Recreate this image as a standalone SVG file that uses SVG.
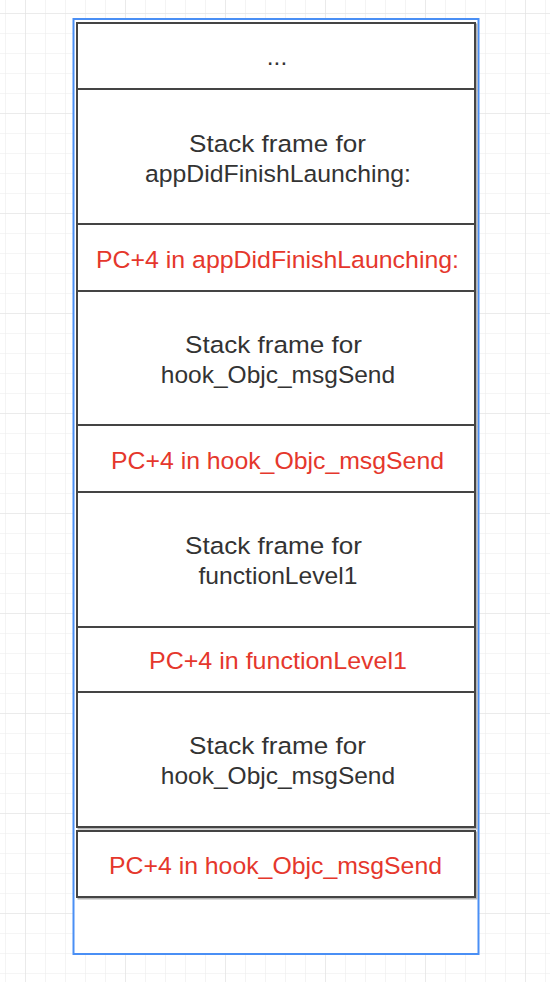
<svg xmlns="http://www.w3.org/2000/svg" width="550" height="982" viewBox="0 0 550 982">
  <defs>
    <pattern id="gridMinor" x="5" y="13" width="20" height="20" patternUnits="userSpaceOnUse">
      <path d="M0 0H20M0 0V20" fill="none" stroke="#ececec" stroke-width="1.2"/>
    </pattern>
    <pattern id="gridMajor" x="25" y="13" width="100" height="100" patternUnits="userSpaceOnUse">
      <path d="M0 0H100M0 0V100" fill="none" stroke="#e2e2e2" stroke-width="1.2"/>
    </pattern>
  </defs>
  <style>
    .box { fill: #ffffff; stroke: #444444; stroke-width: 2; }
    .shadow { fill: none; stroke: #b4b4b4; stroke-width: 2; }
    .t { font-family: "Liberation Sans", Arial, sans-serif; font-size: 24.5px; fill: #333333; text-anchor: middle; }
    .r { font-family: "Liberation Sans", Arial, sans-serif; font-size: 24.5px; fill: #e5372c; text-anchor: middle; }
  </style>
  <rect x="0" y="0" width="550" height="982" fill="#ffffff"/>
  <rect x="0" y="0" width="550" height="982" fill="url(#gridMinor)"/>
  <rect x="0" y="0" width="550" height="982" fill="url(#gridMajor)"/>

  <g id="container">
    <rect x="73.5" y="19" width="405" height="935" fill="#ffffff" stroke="#4a8ff5" stroke-width="2"/>
  </g>

  <g id="frame-dots">
    <rect class="shadow" x="78.5" y="24.5" width="398" height="66"/>
    <rect class="box" x="77" y="23" width="398" height="66"/>
    <text class="t" x="277" y="65">...</text>
  </g>
  <g id="frame-appDidFinishLaunching">
    <rect class="shadow" x="78.5" y="90.5" width="398" height="135"/>
    <rect class="box" x="77" y="89" width="398" height="135"/>
    <text class="t" x="277.5" y="151.5" textLength="177" lengthAdjust="spacingAndGlyphs">Stack frame for</text>
    <text class="t" x="278" y="181.5" textLength="266" lengthAdjust="spacingAndGlyphs">appDidFinishLaunching:</text>
  </g>
  <g id="pc-appDidFinishLaunching">
    <rect class="shadow" x="78.5" y="225.5" width="398" height="67"/>
    <rect class="box" x="77" y="224" width="398" height="67"/>
    <text class="r" x="277.5" y="267.5" textLength="363" lengthAdjust="spacingAndGlyphs">PC+4 in appDidFinishLaunching:</text>
  </g>
  <g id="frame-hook-1">
    <rect class="shadow" x="78.5" y="292.5" width="398" height="134"/>
    <rect class="box" x="77" y="291" width="398" height="134"/>
    <text class="t" x="273.5" y="352.5" textLength="177" lengthAdjust="spacingAndGlyphs">Stack frame for</text>
    <text class="t" x="278" y="382.5">hook_Objc_msgSend</text>
  </g>
  <g id="pc-hook-1">
    <rect class="shadow" x="78.5" y="426.5" width="398" height="67"/>
    <rect class="box" x="77" y="425" width="398" height="67"/>
    <text class="r" x="277.5" y="468.5" textLength="333" lengthAdjust="spacingAndGlyphs">PC+4 in hook_Objc_msgSend</text>
  </g>
  <g id="frame-functionLevel1">
    <rect class="shadow" x="78.5" y="493.5" width="398" height="135"/>
    <rect class="box" x="77" y="492" width="398" height="135"/>
    <text class="t" x="273.5" y="553.5" textLength="177" lengthAdjust="spacingAndGlyphs">Stack frame for</text>
    <text class="t" x="278" y="584" textLength="159" lengthAdjust="spacingAndGlyphs">functionLevel1</text>
  </g>
  <g id="pc-functionLevel1">
    <rect class="shadow" x="78.5" y="628.5" width="398" height="65"/>
    <rect class="box" x="77" y="627" width="398" height="65"/>
    <text class="r" x="278" y="668.5" textLength="258" lengthAdjust="spacingAndGlyphs">PC+4 in functionLevel1</text>
  </g>
  <g id="frame-hook-2">
    <rect class="shadow" x="78.5" y="693.5" width="398" height="135"/>
    <rect class="box" x="77" y="692" width="398" height="135"/>
    <text class="t" x="277.5" y="754" textLength="177" lengthAdjust="spacingAndGlyphs">Stack frame for</text>
    <text class="t" x="278" y="784">hook_Objc_msgSend</text>
  </g>
  <g id="pc-hook-2">
    <rect class="shadow" x="78.5" y="832.5" width="398" height="66"/>
    <rect class="box" x="77" y="831" width="398" height="66"/>
    <text class="r" x="275.5" y="873.5" textLength="333" lengthAdjust="spacingAndGlyphs">PC+4 in hook_Objc_msgSend</text>
  </g>
  <g id="connectors"></g>
</svg>
